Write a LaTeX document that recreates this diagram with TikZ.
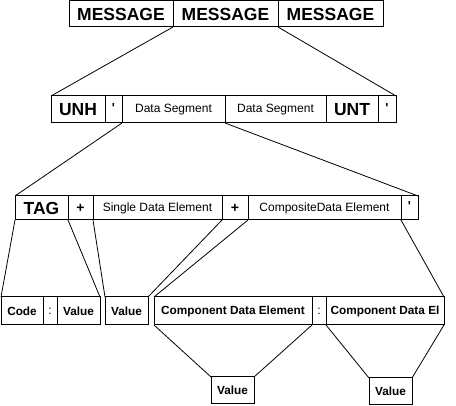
\documentclass[tikz,border=0pt]{standalone}
\usepackage{fontspec}
\setmainfont{Liberation Sans}
\begin{document}
\begin{tikzpicture}[x=1pt,y=-1pt,
  cell/.style={draw=black,line width=1pt,inner sep=0pt,outer sep=0pt,anchor=north west,align=center},
  big/.style={font=\fontsize{17.5}{17.5}\selectfont\bfseries},
  mid/.style={font=\fontsize{12}{12}\selectfont},
  midb/.style={font=\fontsize{11.8}{12}\selectfont\bfseries},
  sym/.style={font=\fontsize{14}{14}\selectfont\bfseries},
  tick/.style={font=\fontsize{13}{13}\selectfont\bfseries},
  link/.style={line width=0.8pt}]
\path[use as bounding box,fill=white] (0,0) rectangle (456,406);
% row 1
\node[cell,big,minimum width=104pt,minimum height=26pt] (m1) at (69,1) {MESSAGE};
\node[cell,big,minimum width=105pt,minimum height=26pt] (m2) at (173,1) {MESSAGE};
\node[cell,big,minimum width=105pt,minimum height=26pt] (m3) at (278,1) {MESSAGE};
% row 2
\node[cell,big,minimum width=54pt,minimum height=27pt] (unh) at (51,96) {UNH};
\node[cell,tick,minimum width=17pt,minimum height=27pt] (ap1) at (105,96) {\raisebox{3pt}{\textquotesingle}};
\node[cell,mid,minimum width=103pt,minimum height=27pt] (ds1) at (122,96) {Data Segment};
\node[cell,mid,minimum width=101pt,minimum height=27pt] (ds2) at (225,96) {Data Segment};
\node[cell,big,minimum width=52pt,minimum height=27pt] (unt) at (326,96) {UNT};
\node[cell,tick,minimum width=18pt,minimum height=27pt] (ap2) at (378,96) {\raisebox{3pt}{\textquotesingle}};
% row 3
\node[cell,big,minimum width=53pt,minimum height=24pt] (tag) at (15,196) {TAG};
\node[cell,sym,minimum width=25pt,minimum height=24pt] (plus1) at (68,196) {+};
\node[cell,mid,minimum width=129pt,minimum height=24pt] (sde) at (93,196) {Single Data Element};
\node[cell,sym,minimum width=26pt,minimum height=24pt] (plus2) at (222,196) {+};
\node[cell,mid,minimum width=153pt,minimum height=24pt] (cde) at (248,196) {CompositeData Element};
\node[cell,tick,minimum width=17pt,minimum height=24pt] (ap3) at (401,196) {\raisebox{3pt}{\textquotesingle}};
% row 4
\node[cell,midb,minimum width=42pt,minimum height=28pt] (code) at (1,297) {Code};
\node[cell,mid,minimum width=14pt,minimum height=28pt] (col1) at (43,297) {:};
\node[cell,midb,minimum width=43pt,minimum height=28pt] (val1) at (57,297) {Value};
\node[cell,midb,minimum width=43pt,minimum height=28pt] (val2) at (105,297) {Value};
\node[cell,midb,minimum width=158pt,minimum height=28pt] (comp1) at (154,297) {Component Data Element};
\node[cell,mid,minimum width=14pt,minimum height=28pt] (col2) at (312,297) {:};
\node[cell,midb,minimum width=118pt,minimum height=28pt] (comp2) at (326,297) {Component Data El};
% row 5
\node[cell,midb,minimum width=43pt,minimum height=27pt] (v3) at (211,377) {Value};
\node[cell,midb,minimum width=43pt,minimum height=27pt] (v4) at (369,378) {Value};
% connectors
\draw[link] (m2.south west) -- (unh.north west);
\draw[link] (m3.south west) -- (ap2.north east);
\draw[link] (ap1.south east) -- (tag.north west);
\draw[link] (ds2.south west) -- (ap3.north east);
\draw[link] (tag.south west) -- (code.north west);
\draw[link] (plus1.south west) -- (val1.north east);
\draw[link] (plus1.south east) -- (val2.north west);
\draw[link] (sde.south east) -- (val2.north east);
\draw[link] (plus2.south east) -- (comp1.north west);
\draw[link] (cde.south east) -- (comp2.north east);
\draw[link] (comp1.south west) -- (v3.north west);
\draw[link] (comp1.south east) -- (v3.north east);
\draw[link] (comp2.south west) -- (v4.north west);
\draw[link] (comp2.south east) -- (v4.north east);
\end{tikzpicture}
\end{document}
